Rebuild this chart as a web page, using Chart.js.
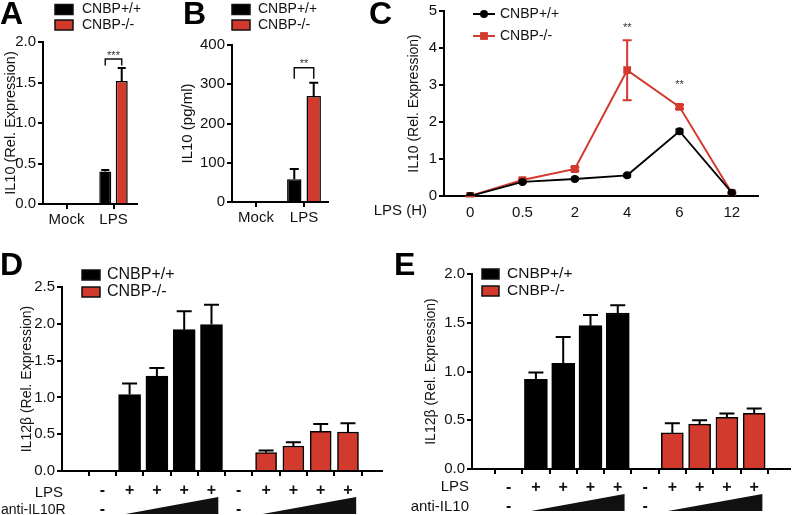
<!DOCTYPE html>
<html>
<head>
<meta charset="utf-8">
<script src="https://cdn.jsdelivr.net/npm/chart.js@4.4.0/dist/chart.umd.min.js"></script>
<style>
  body { margin: 0; background: #fff; }
  #fig { position: relative; width: 798px; height: 515px; overflow: hidden; font-family: 'Liberation Sans', Arial, sans-serif; }
  #fig canvas { position: absolute; left: 0; top: 0; }
  .tag { position: absolute; font-weight: bold; font-size: 32px; line-height: 32px; color: #000; }
</style>
</head>
<body>
<div id="fig">
  <canvas id="chartA" width="798" height="515"></canvas>
  <canvas id="chartB" width="798" height="515"></canvas>
  <canvas id="chartC" width="798" height="515"></canvas>
  <canvas id="chartD" width="798" height="515"></canvas>
  <canvas id="chartE" width="798" height="515"></canvas>
  <div class="tag" style="left:0px;top:-3px">A</div>
  <div class="tag" style="left:183px;top:-3px">B</div>
  <div class="tag" style="left:369px;top:-3px">C</div>
  <div class="tag" style="left:0px;top:248px">D</div>
  <div class="tag" style="left:394px;top:248px">E</div>
</div>
<script>
// ---- data ----
const groups = ['Mock', 'LPS'];
const relWT = [0, 0.40];
const relWTErr = [0, 0.02];
const relKO = [0, 1.52];
const relKOErr = [0, 0.16];

const pgWT = [2, 58];
const pgWTErr = [0, 26];
const pgKO = [2, 270];
const pgKOErr = [0, 34];

const hours = ['0', '0.5', '2', '4', '6', '12'];
const timeWT = [0, 0.38, 0.46, 0.56, 1.75, 0.09];
const timeWTErr = [0.01, 0.02, 0.03, 0.03, 0.05, 0.01];
const timeKO = [0, 0.43, 0.73, 3.40, 2.41, 0.08];
const timeKOErr = [0.01, 0.03, 0.05, 0.81, 0.05, 0.02];

const lpsSigns = ['-', '+', '+', '+', '+', '-', '+', '+', '+', '+'];

const il10rWT = [null, 1.04, 1.29, 1.92, 1.99];
const il10rWTErr = [0, 0.15, 0.11, 0.25, 0.27];
const il10rKO = [null, 0.25, 0.34, 0.54, 0.53];
const il10rKOErr = [0, 0.03, 0.05, 0.10, 0.12];

const il10WT = [null, 0.92, 1.085, 1.47, 1.60];
const il10WTErr = [0, 0.07, 0.27, 0.11, 0.08];
const il10KO = [null, 0.37, 0.46, 0.53, 0.57];
const il10KOErr = [0, 0.10, 0.04, 0.04, 0.05];

const RED = '#d23a2d';
const INK = '#111';
const FONT = "'Liberation Sans', Arial, sans-serif";

Chart.defaults.font.family = FONT;
Chart.defaults.color = INK;
Chart.defaults.animation = false;
Chart.defaults.responsive = false;
Chart.defaults.plugins.legend.display = false;
Chart.defaults.plugins.tooltip.enabled = false;

// error bars, drawn from each mark up (and down if errorBoth)
const errorBars = {
  id: 'errorBars',
  beforeDatasetsDraw(chart) {
    const ctx = chart.ctx;
    const y = chart.scales.y;
    chart.data.datasets.forEach((ds, d) => {
      if (!ds.errors) return;
      const meta = chart.getDatasetMeta(d);
      meta.data.forEach((el, i) => {
        const raw = ds.data[i];
        const v = raw !== null && typeof raw === 'object' ? raw.y : raw;
        const e = ds.errors[i];
        if (v === null || !e) return;
        const half = ds.capWidth / 2;
        const ends = ds.errorBoth ? [v + e, v - e] : [v + e];
        ctx.save();
        ctx.strokeStyle = ds.errorColor;
        ctx.lineWidth = 2;
        ends.forEach(t => {
          const py = y.getPixelForValue(t);
          ctx.beginPath();
          ctx.moveTo(el.x, el.y);
          ctx.lineTo(el.x, py);
          ctx.moveTo(el.x - half, py);
          ctx.lineTo(el.x + half, py);
          ctx.stroke();
        });
        ctx.restore();
      });
    });
  }
};

// legends drawn at a fixed place inside the figure
const keyBox = {
  id: 'keyBox',
  afterDraw(chart, args, o) {
    if (o.x === undefined) return;
    const ctx = chart.ctx;
    ctx.save();
    ctx.font = o.size + 'px ' + FONT;
    ctx.textBaseline = 'middle';
    chart.data.datasets.forEach((ds, k) => {
      const cy = o.y + k * o.dy;
      if (o.line) {
        ctx.strokeStyle = ds.borderColor;
        ctx.lineWidth = 2;
        ctx.beginPath();
        ctx.moveTo(o.x, cy);
        ctx.lineTo(o.x + o.w, cy);
        ctx.stroke();
        ctx.fillStyle = ds.pointBackgroundColor;
        const cx = o.x + o.w / 2;
        if (ds.pointStyle === 'rect') {
          const s = ds.pointRadius * Math.SQRT1_2;
          ctx.fillRect(cx - s, cy - s, 2 * s, 2 * s);
        } else {
          ctx.beginPath();
          ctx.arc(cx, cy, ds.pointRadius, 0, Math.PI * 2);
          ctx.fill();
        }
      } else {
        ctx.fillStyle = ds.backgroundColor;
        ctx.fillRect(o.x, cy - o.h / 2, o.w, o.h);
        ctx.strokeStyle = INK;
        ctx.lineWidth = 1.5;
        ctx.strokeRect(o.x, cy - o.h / 2, o.w, o.h);
      }
      ctx.fillStyle = INK;
      ctx.fillText(ds.label, o.x + o.w + o.gap, cy);
    });
    ctx.restore();
  }
};

// significance stars and brackets
const sigMarks = {
  id: 'sigMarks',
  afterDatasetsDraw(chart, args, o) {
    if (!o.items) return;
    const ctx = chart.ctx;
    const y = chart.scales.y;
    ctx.save();
    o.items.forEach(it => {
      let x;
      if (it.top !== undefined) {
        const a = chart.getDatasetMeta(0).data[it.index].x;
        const b = chart.getDatasetMeta(1).data[it.index].x;
        const yt = y.getPixelForValue(it.top);
        const yl = y.getPixelForValue(it.leg);
        ctx.strokeStyle = INK;
        ctx.lineWidth = 1.5;
        ctx.beginPath();
        ctx.moveTo(a, yl);
        ctx.lineTo(a, yt);
        ctx.lineTo(b, yt);
        ctx.lineTo(b, yl);
        ctx.stroke();
        x = (a + b) / 2;
      } else {
        x = chart.scales.x.getPixelForValue(it.index);
      }
      ctx.fillStyle = '#333';
      ctx.font = '11px ' + FONT;
      ctx.textAlign = 'center';
      ctx.textBaseline = 'alphabetic';
      ctx.fillText(it.text, x, y.getPixelForValue(it.at) + 6);
    });
    ctx.restore();
  }
};

// extra labels: axis side labels, treatment rows and wedges
const sideText = {
  id: 'sideText',
  afterDraw(chart, args, o) {
    const ctx = chart.ctx;
    ctx.save();
    ctx.fillStyle = INK;
    ctx.textBaseline = 'middle';
    (o.texts || []).forEach(t => {
      ctx.font = t.size + 'px ' + FONT;
      ctx.textAlign = t.align || 'right';
      ctx.fillText(t.text, t.x, t.y);
    });
    if (o.minus) {
      const xs = chart.scales.x;
      ctx.font = 'bold 16px ' + FONT;
      ctx.textAlign = 'center';
      o.minus.forEach(i => ctx.fillText('-', xs.getPixelForValue(i), o.minusY));
      o.wedges.forEach(w => {
        const x1 = xs.getPixelForValue(w[0]);
        const x2 = xs.getPixelForValue(w[1]);
        ctx.beginPath();
        ctx.moveTo(x1, o.wedgeBottom);
        ctx.lineTo(x2, o.wedgeBottom);
        ctx.lineTo(x2, o.wedgeBottom - o.wedgeH);
        ctx.closePath();
        ctx.fill();
      });
    }
    ctx.restore();
  }
};

Chart.register(errorBars, keyBox, sigMarks, sideText);

function axisY(max, step, label, boxWidth, decimals, titleSize) {
  return {
    min: 0, max: max,
    afterFit: s => { s.width = boxWidth; },
    border: { color: '#000', width: 2 },
    grid: { drawOnChartArea: false, color: '#000', lineWidth: 2, tickLength: 5 },
    ticks: { stepSize: step, padding: 2, font: { size: 15 }, color: INK, callback: v => v.toFixed(decimals) },
    title: { display: true, text: label, font: { size: titleSize }, padding: 0, color: INK }
  };
}

function axisCat(boxHeight) {
  return {
    afterFit: s => { s.height = boxHeight; },
    border: { color: '#000', width: 2 },
    grid: { drawOnChartArea: false, offset: false, color: '#000', lineWidth: 2, tickLength: 5 },
    ticks: { font: { size: 15 }, padding: 2, color: INK }
  };
}

function axisSigns(min, max, boxHeight, pad) {
  return {
    type: 'linear', min: min, max: max,
    afterBuildTicks: s => { s.ticks = lpsSigns.map((_, i) => ({ value: i })); },
    afterFit: s => { s.height = boxHeight; },
    border: { color: '#000', width: 2 },
    grid: { drawOnChartArea: false, color: '#000', lineWidth: 2, tickLength: 5 },
    ticks: { autoSkip: false, maxRotation: 0, padding: pad, font: { size: 16, weight: 'bold' }, color: INK,
             callback: v => lpsSigns[v] }
  };
}

function barSet(label, values, errors, fill, offset, thickness) {
  return {
    label: label,
    data: values.map((v, i) => ({ x: i + offset, y: v })),
    errors: errors,
    errorColor: '#000',
    capWidth: 15,
    backgroundColor: fill,
    borderColor: '#000',
    borderWidth: 1.5,
    barThickness: thickness,
    grouped: false
  };
}

// ---- A ----
new Chart(document.getElementById('chartA'), {
  type: 'bar',
  data: {
    labels: groups,
    datasets: [
      { label: 'CNBP+/+', data: relWT, errors: relWTErr, errorColor: '#000', capWidth: 8,
        backgroundColor: '#000', borderColor: '#000', borderWidth: 1.5, categoryPercentage: 0.7, barPercentage: 0.73 },
      { label: 'CNBP-/-', data: relKO, errors: relKOErr, errorColor: '#000', capWidth: 8,
        backgroundColor: RED, borderColor: '#000', borderWidth: 1.5, categoryPercentage: 0.7, barPercentage: 0.73 }
    ]
  },
  options: {
    layout: { padding: { left: 2, top: 42, right: 661, bottom: 285 } },
    scales: { x: axisCat(26), y: axisY(2, 0.5, 'IL10 (Rel. Expression)', 41, 1, 14.5) },
    plugins: {
      keyBox: { x: 55, y: 9.5, dy: 15.5, w: 18, h: 10, gap: 9, size: 14 },
      sigMarks: { items: [{ index: 1, top: 1.79, leg: 1.71, at: 1.86, text: '***' }] }
    }
  }
});

// ---- B ----
new Chart(document.getElementById('chartB'), {
  type: 'bar',
  data: {
    labels: groups,
    datasets: [
      { label: 'CNBP+/+', data: pgWT, errors: pgWTErr, errorColor: '#000', capWidth: 9,
        backgroundColor: '#000', borderColor: '#000', borderWidth: 1.5, categoryPercentage: 0.81, barPercentage: 0.74 },
      { label: 'CNBP-/-', data: pgKO, errors: pgKOErr, errorColor: '#000', capWidth: 9,
        backgroundColor: RED, borderColor: '#000', borderWidth: 1.5, categoryPercentage: 0.81, barPercentage: 0.74 }
    ]
  },
  options: {
    layout: { padding: { left: 179, top: 45, right: 470, bottom: 287 } },
    scales: { x: axisCat(26), y: axisY(400, 100, 'IL10 (pg/ml)', 53, 0, 15) },
    plugins: {
      keyBox: { x: 232, y: 9.5, dy: 15.5, w: 18, h: 10, gap: 8, size: 14 },
      sigMarks: { items: [{ index: 1, top: 342, leg: 314, at: 358, text: '**' }] }
    }
  }
});

// ---- C ----
new Chart(document.getElementById('chartC'), {
  type: 'line',
  data: {
    labels: hours,
    datasets: [
      { label: 'CNBP+/+', data: timeWT, errors: timeWTErr, errorBoth: true, errorColor: '#000', capWidth: 8,
        borderColor: '#000', borderWidth: 1.8, tension: 0,
        pointStyle: 'circle', pointRadius: 4, pointBackgroundColor: '#000', pointBorderColor: '#000', pointBorderWidth: 0 },
      { label: 'CNBP-/-', data: timeKO, errors: timeKOErr, errorBoth: true, errorColor: RED, capWidth: 9,
        borderColor: RED, borderWidth: 2, tension: 0,
        pointStyle: 'rect', pointRadius: 5.5, pointBackgroundColor: RED, pointBorderColor: RED, pointBorderWidth: 0 }
    ]
  },
  options: {
    layout: { padding: { left: 406, top: 10, right: 40, bottom: 293 } },
    scales: {
      x: {
        offset: true,
        afterFit: s => { s.height = 26; },
        border: { color: '#000', width: 2 },
        grid: { drawOnChartArea: false, drawTicks: false, tickLength: 0 },
        ticks: { font: { size: 15 }, padding: 8, color: INK }
      },
      y: axisY(5, 1, 'IL10 (Rel. Expression)', 38, 0, 14)
    },
    plugins: {
      keyBox: { x: 473, y: 14, dy: 22, w: 22, h: 10, gap: 5, size: 14, line: true },
      sigMarks: { items: [{ index: 3, at: 4.62, text: '**' }, { index: 4, at: 3.09, text: '**' }] },
      sideText: { texts: [{ text: 'LPS (H)', x: 427, y: 211, size: 15 }] }
    }
  }
});

// ---- D ----
new Chart(document.getElementById('chartD'), {
  type: 'bar',
  data: {
    datasets: [
      barSet('CNBP+/+', il10rWT, il10rWTErr, '#000', 0, 22),
      barSet('CNBP-/-', il10rKO, il10rKOErr, RED, 5, 21)
    ]
  },
  options: {
    layout: { padding: { left: 19, top: 287, right: 416, bottom: 14 } },
    scales: { x: axisSigns(-0.89, 9.66, 30, 5), y: axisY(2.5, 0.5, 'IL12\u03b2 (Rel. Expression)', 43, 1, 14) },
    plugins: {
      keyBox: { x: 82, y: 275, dy: 17, w: 18, h: 10, gap: 7, size: 16 },
      sideText: {
        texts: [{ text: 'LPS', x: 63, y: 493, size: 15 }, { text: 'anti-IL10R', x: 1, y: 510, size: 14, align: 'left' }],
        minus: [0, 5], minusY: 510,
        wedges: [[0.86, 4.25], [5.87, 9.3]], wedgeBottom: 514, wedgeH: 17
      }
    }
  }
});

// ---- E ----
new Chart(document.getElementById('chartE'), {
  type: 'bar',
  data: {
    datasets: [
      barSet('CNBP+/+', il10WT, il10WTErr, '#000', 0, 23),
      barSet('CNBP-/-', il10KO, il10KOErr, RED, 5, 22)
    ]
  },
  options: {
    layout: { padding: { left: 423, top: 274, right: 8, bottom: 16 } },
    scales: { x: axisSigns(-0.76, 9.73, 30, 3.5), y: axisY(2, 0.5, 'IL12\u03b2 (Rel. Expression)', 49, 1, 14) },
    plugins: {
      keyBox: { x: 482, y: 274, dy: 17, w: 17, h: 10, gap: 8, size: 15.5 },
      sideText: {
        texts: [{ text: 'LPS', x: 469, y: 487, size: 15 }, { text: 'anti-IL10', x: 469, y: 507, size: 15 }],
        minus: [0, 5], minusY: 507,
        wedges: [[0.82, 4.25], [5.84, 9.3]], wedgeBottom: 511, wedgeH: 17
      }
    }
  }
});
</script>
</body>
</html>
